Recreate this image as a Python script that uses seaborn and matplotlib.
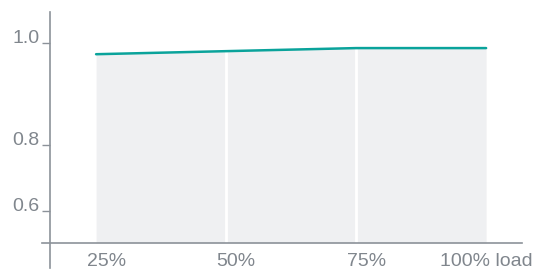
import numpy as np
import pandas as pd
import matplotlib
matplotlib.use("Agg")
import matplotlib.pyplot as plt
import matplotlib.transforms as mtransforms
import seaborn as sns

# values
load = [25, 50, 75, 100]
load_labels = ["25%", "50%", "75%", "100% load"]
efficiency = [0.978, 0.984, 0.990, 0.990]
y_ticks = [0.6, 0.8, 1.0]
y_tick_labels = ["0.6", "0.8", "1.0"]

df = pd.DataFrame({"load": load, "value": efficiency})

sns.set_theme(style="white")
plt.rcParams["font.family"] = ["Liberation Sans", "DejaVu Sans"]

axis_col = "#8c9299"
text_col = "#80868d"
teal = "#0aa39b"
fill_col = "#eff0f2"

# the original axis is stretched non-linearly: piecewise linear mapping
brk_vals = [0.0, 0.5, 0.6, 0.8, 1.0, 2.0]
brk_pos = [-165, 0, 32, 98, 200, 710]


def fwd(v):
    return np.interp(v, brk_vals, brk_pos)


def inv(p):
    return np.interp(p, brk_pos, brk_vals)


fig = plt.figure(figsize=(5.35, 2.71), dpi=100)
ax = fig.add_axes([42 / 535, 3 / 271, 480 / 535, 256 / 271])
ax.set_yscale("function", functions=(fwd, inv))
ax.set_xlim(14.6, 106.9)
ax.set_ylim(0.424, 1.0608)

base = 0.5
ax.fill_between(df["load"], base, df["value"], color=fill_col, lw=0, zorder=1)
ax.vlines(df["load"][1:3], base, df["value"][1:3], color="white", lw=2, zorder=2)
sns.lineplot(data=df, x="load", y="value", ax=ax, color=teal, lw=1.8, zorder=3)

for s in ["top", "right"]:
    ax.spines[s].set_visible(False)
ax.spines["left"].set_position(("data", 16.15))
ax.spines["bottom"].set_position(("data", base))
for s in ["left", "bottom"]:
    ax.spines[s].set_color(axis_col)
    ax.spines[s].set_linewidth(1.2)

ax.set_xticks(load)
ax.set_xticklabels(load_labels)
ax.set_yticks(y_ticks)
ax.set_yticklabels(y_tick_labels)
ax.yaxis.set_minor_locator(matplotlib.ticker.NullLocator())
ax.tick_params(axis="x", length=0, pad=7, labelsize=14, labelcolor=text_col)
ax.tick_params(axis="y", direction="out", length=5.5, width=1.0, color=axis_col,
               pad=2, labelsize=14, labelcolor=text_col, left=True)
for lbl in ax.get_yticklabels():
    lbl.set_verticalalignment("baseline")

# first three labels sit a little right of their points in the original
for lbl in ax.get_xticklabels()[:3]:
    lbl.set_transform(lbl.get_transform() +
                      mtransforms.ScaledTranslation(10 / 100, 0, fig.dpi_scale_trans))

ax.set_xlabel("")
ax.set_ylabel("")
ax.grid(False)

fig.savefig("out.png", dpi=100)
